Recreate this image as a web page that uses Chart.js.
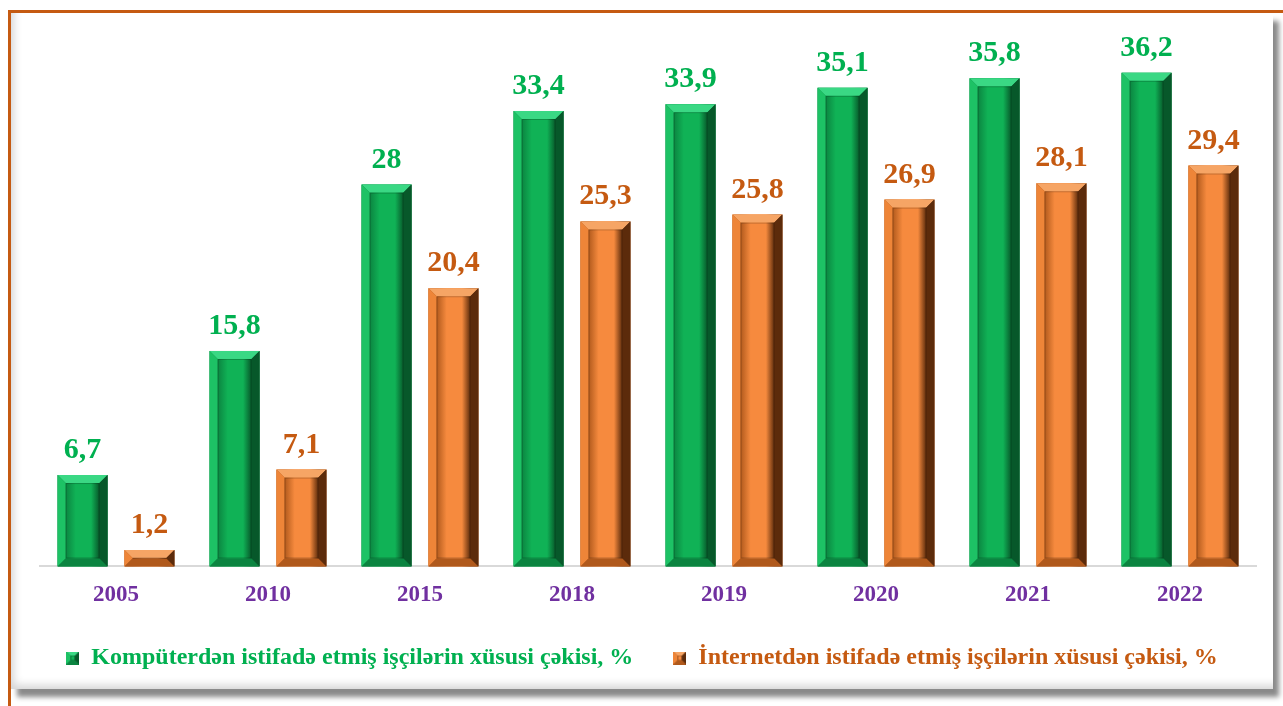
<!DOCTYPE html>
<html>
<head>
<meta charset="utf-8">
<script src="https://cdn.jsdelivr.net/npm/chart.js@4/dist/chart.umd.min.js"></script>
<style>
  body { margin: 0; background: #fff; }
  #wrap { position: relative; width: 1283px; height: 706px; overflow: hidden; }
  .edgeTop { position: absolute; left: 8px; top: 10px; width: 1275px; height: 3px; background: #C55A11; }
  .edgeLeft { position: absolute; left: 8px; top: 10px; width: 3px; height: 696px; background: #C55A11; }
  .panel {
    position: absolute; left: 11px; top: 13px; width: 1262px; height: 676px; background: #fff;
    box-shadow: 6px 8px 5px #8a8a8a, inset 8px -9px 9px -5px #d6d6d6;
  }
  canvas { position: absolute; left: 0; top: 0; }
</style>
</head>
<body>
<div id="wrap">
  <div class="panel"></div>
  <div class="edgeTop"></div>
  <div class="edgeLeft"></div>
  <canvas id="chart" width="1283" height="706"></canvas>
</div>
<script>
const years = ["2005", "2010", "2015", "2018", "2019", "2020", "2021", "2022"];
const computerShare = [6.7, 15.8, 28, 33.4, 33.9, 35.1, 35.8, 36.2];
const internetShare = [1.2, 7.1, 20.4, 25.3, 25.8, 26.9, 28.1, 29.4];
const seriesNames = [
  "Kompüterdən istifadə etmiş işçilərin xüsusi çəkisi, %",
  "İnternetdən istifadə etmiş işçilərin xüsusi çəkisi, %"
];

const SERIF = "'Liberation Serif', 'Times New Roman', serif";

// bevel colours: face, top, left, right, bottom
const palettes = [
  { face: "#10B256", top: "#3AD884", left: "#1DC265", right: "#07582A", bottom: "#0B8440", text: "#00B050" },
  { face: "#F68A3E", top: "#F6A565", left: "#EE8538", right: "#5C2B0B", bottom: "#B0591C", text: "#C55A11" }
];

function bevelBox(ctx, l, t, r, b, p, size) {
  const s = Math.min(size, (b - t) / 2, (r - l) / 2);
  const poly = (pts, c) => {
    ctx.beginPath();
    ctx.moveTo(pts[0][0], pts[0][1]);
    for (let i = 1; i < pts.length; i++) ctx.lineTo(pts[i][0], pts[i][1]);
    ctx.closePath();
    ctx.fillStyle = c;
    ctx.fill();
  };
  const g = ctx.createLinearGradient(l + s, 0, r - s, 0);
  g.addColorStop(0, p.bottom);
  g.addColorStop(0.3, p.face);
  g.addColorStop(0.75, p.face);
  g.addColorStop(1, p.right);
  ctx.fillStyle = g;
  ctx.fillRect(l, t, r - l, b - t);
  poly([[l, t], [r, t], [r - s, t + s], [l + s, t + s]], p.top);
  poly([[l, t], [l + s, t + s], [l + s, b - s], [l, b]], p.left);
  poly([[r, t], [r, b], [r - s, b - s], [r - s, t + s]], p.right);
  poly([[l, b], [r, b], [r - s, b - s], [l + s, b - s]], p.bottom);
  ctx.strokeStyle = "rgba(0,0,0,0.2)";
  ctx.lineWidth = 1;
  ctx.strokeRect(l + s + 0.5, t + s + 0.5, r - l - 2 * s - 1, b - t - 2 * s - 1);
}

function markerCanvas(p) {
  const c = document.createElement("canvas");
  c.width = 13; c.height = 13;
  bevelBox(c.getContext("2d"), 0, 0, 13, 13, p, 4);
  return c;
}

const bevelBars = {
  id: "bevelBars",
  afterDatasetsDraw(chart) {
    const ctx = chart.ctx;
    ctx.save();
    chart.data.datasets.forEach((ds, di) => {
      const p = palettes[di];
      chart.getDatasetMeta(di).data.forEach((bar, i) => {
        const { x, y, base, width } = bar.getProps(["x", "y", "base", "width"], true);
        bevelBox(ctx, x - width / 2, y, x + width / 2, base, p, 8);
        ctx.fillStyle = p.text;
        ctx.font = "bold 30px " + SERIF;
        ctx.textAlign = "center";
        ctx.textBaseline = "alphabetic";
        ctx.fillText(String(ds.data[i]).replace(".", ","), x, y - 17);
      });
    });
    ctx.restore();
  }
};

new Chart(document.getElementById("chart"), {
  type: "bar",
  data: {
    labels: years,
    datasets: [
      { label: seriesNames[0], data: computerShare, backgroundColor: palettes[0].face,
        categoryPercentage: 0.88, barPercentage: 0.746 },
      { label: seriesNames[1], data: internetShare, backgroundColor: palettes[1].face,
        categoryPercentage: 0.88, barPercentage: 0.746 }
    ]
  },
  options: {
    responsive: false,
    animation: false,
    layout: { padding: { left: 40, right: 27, top: 21, bottom: 26 } },
    scales: {
      x: {
        grid: { display: true, drawOnChartArea: false, drawTicks: false },
        border: { display: true, color: "#D9D9D9", width: 2 },
        ticks: { color: "#7030A0", font: { family: SERIF, size: 23, weight: "bold" }, padding: 15 }
      },
      y: { display: false, min: 0, max: 40 }
    },
    plugins: {
      tooltip: { enabled: false },
      legend: {
        position: "bottom",
        labels: {
          usePointStyle: true,
          pointStyleWidth: 13,
          boxHeight: 13,
          padding: 22,
          font: { family: SERIF, size: 24, weight: "bold" },
          generateLabels(chart) {
            return chart.data.datasets.map((ds, i) => ({
              text: i === 0 ? ds.label + "   " : ds.label + "  ",
              fontColor: palettes[i].text,
              pointStyle: markerCanvas(palettes[i]),
              fillStyle: palettes[i].face,
              strokeStyle: palettes[i].face,
              lineWidth: 0,
              hidden: false,
              datasetIndex: i
            }));
          }
        }
      }
    }
  },
  plugins: [bevelBars]
});
</script>
</body>
</html>
